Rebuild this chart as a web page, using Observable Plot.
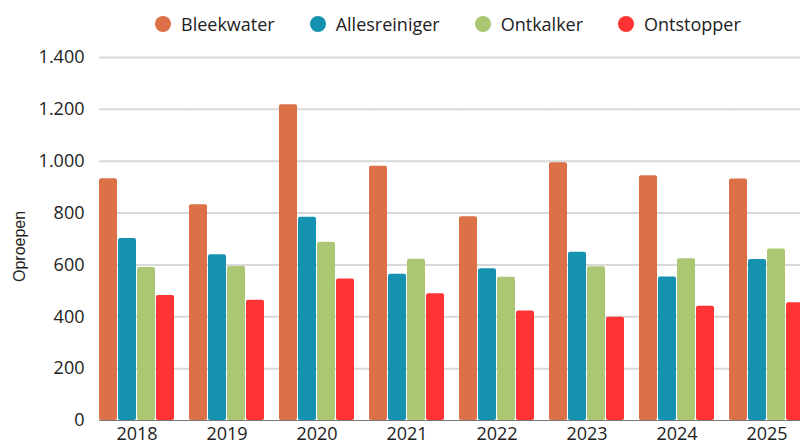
<!DOCTYPE html>
<html>
<head>
<meta charset="utf-8">
<script src="https://cdn.jsdelivr.net/npm/d3@7"></script>
<script src="https://cdn.jsdelivr.net/npm/@observablehq/plot@0.6"></script>
<style>
  html, body { margin: 0; padding: 0; background: #fff; }
  #wrap { width: 800px; height: 443px; overflow: hidden; position: relative; font-family: "Open Sans", sans-serif; }
  #legend { height: 45px; display: flex; align-items: center; padding-left: 155px; padding-top: 3px; box-sizing: border-box; font-size: 18px; color: #222; }
  #legend .item { display: flex; align-items: center; margin-right: 35px; }
  #legend .dot { width: 16px; height: 16px; border-radius: 50%; margin-right: 10px; }
  #chart svg { display: block; overflow: hidden; }
</style>
</head>
<body>
<div id="wrap">
  <div id="legend"></div>
  <div id="chart"></div>
</div>
<script>
const years = ["2018", "2019", "2020", "2021", "2022", "2023", "2024", "2025"];
const seriesNames = ["Bleekwater", "Allesreiniger", "Ontkalker", "Ontstopper"];
const seriesColors = ["#DC7148", "#1692B1", "#ABC773", "#FF3333"];
const bleekwater    = [932, 832, 1218, 981, 786, 994, 944, 931];
const allesreiniger = [702, 639, 784, 564, 585, 649, 553, 621];
const ontkalker     = [590, 594, 687, 622, 552, 593, 624, 661];
const ontstopper    = [482, 464, 546, 489, 422, 398, 441, 454];
const yTicks = [0, 200, 400, 600, 800, 1000, 1200, 1400];
const yTitle = "Oproepen";

const valuesBySeries = [bleekwater, allesreiniger, ontkalker, ontstopper];
const data = [];
years.forEach((yr, i) => {
  seriesNames.forEach((s, j) => {
    data.push({year: yr, series: s, value: valuesBySeries[j][i]});
  });
});

const locale = d3.formatLocale({decimal: ",", thousands: ".", grouping: [3], currency: ["", ""]});
const fmt = locale.format(",d");

// legend
const legend = document.getElementById("legend");
seriesNames.forEach((s, j) => {
  const item = document.createElement("div");
  item.className = "item";
  const dot = document.createElement("span");
  dot.className = "dot";
  dot.style.background = seriesColors[j];
  const label = document.createElement("span");
  label.textContent = s;
  item.appendChild(dot);
  item.appendChild(label);
  legend.appendChild(item);
});

const chart = Plot.plot({
  width: 800,
  height: 398,
  marginLeft: 99,
  marginRight: -4,
  marginTop: 12,
  marginBottom: 23,
  style: {fontFamily: "Open Sans, sans-serif", fontSize: "18px", color: "#222", background: "#fff"},
  fx: {domain: years, paddingInner: 1/6, paddingOuter: 0, align: 0},
  x: {domain: seriesNames, paddingInner: 0.053, paddingOuter: 0, axis: null},
  y: {domain: [0, 1400]},
  color: {domain: seriesNames, range: seriesColors},
  marks: [
    Plot.ruleY(yTicks.filter(d => d > 0), {stroke: "#d9d9d9", strokeWidth: 2, insetRight: -16}),
    Plot.ruleY([0], {stroke: "#777", strokeWidth: 1, insetRight: -16}),
    Plot.barY(data, {fx: "year", x: "series", y: "value", fill: "series", rx: 2}),
    Plot.axisY({ticks: yTicks, tickSize: 0, tickPadding: 15, tickFormat: fmt, label: null, fontSize: 18}),
    Plot.text([yTitle], {fx: () => years[0], text: d => d, frameAnchor: "left", rotate: -90, dx: -80, dy: 43,
      fontFamily: "Liberation Sans, Arial, sans-serif", fontSize: 16, fill: "#222"}),
    Plot.axisFx({anchor: "bottom", tickSize: 0, tickPadding: 7, label: null, fontSize: 18})
  ]
});
document.getElementById("chart").appendChild(chart);
</script>
</body>
</html>
